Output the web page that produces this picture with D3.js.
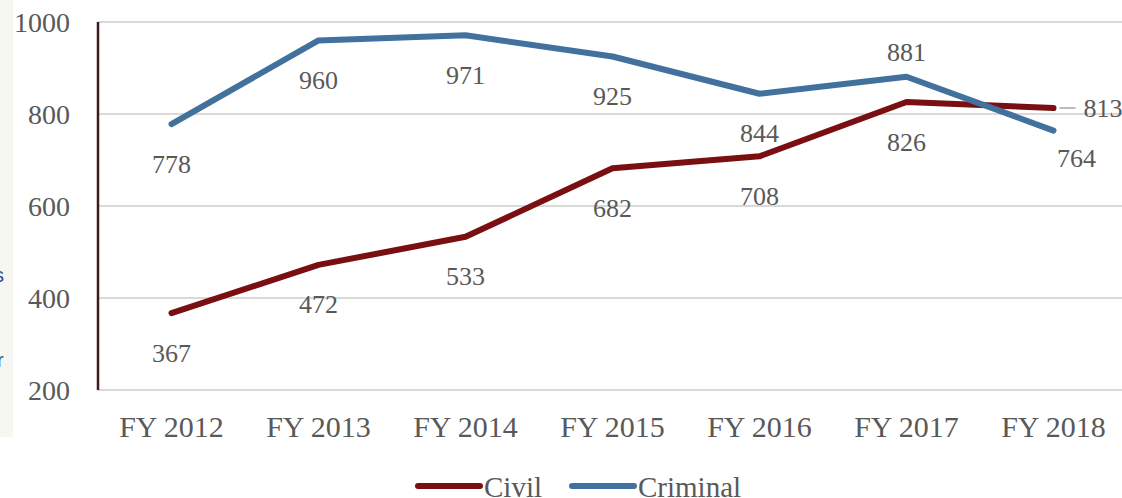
<!DOCTYPE html>
<html>
<head>
<meta charset="utf-8">
<script src="https://cdn.jsdelivr.net/npm/d3@7"></script>
<style>
  body { margin: 0; background: #fff; }
  svg { display: block; }
  text { font-family: "Liberation Serif", "Times New Roman", serif; fill: #595959; }
</style>
</head>
<body>
<script>
// chart data
const years = ["FY 2012", "FY 2013", "FY 2014", "FY 2015", "FY 2016", "FY 2017", "FY 2018"];
const civil = [367, 472, 533, 682, 708, 826, 813];
const criminal = [778, 960, 971, 925, 844, 881, 764];
const yTicks = [200, 400, 600, 800, 1000];

const W = 1122, H = 498;
const margin = {top: 22, right: -5, bottom: 108, left: 98};

const svg = d3.select("body").append("svg")
  .attr("width", W).attr("height", H);

// cropped side panel at the far left (part of the original page)
svg.append("rect").attr("x", 0).attr("y", 0).attr("width", 13).attr("height", 437)
  .attr("fill", "#f7f7f2");
svg.append("text").attr("x", -6).attr("y", 282).text("s")
  .style("font-family", "Liberation Sans, sans-serif").style("font-size", "20px").style("fill", "#2e4c8c");
svg.append("text").attr("x", -3).attr("y", 367).text("r")
  .style("font-family", "Liberation Sans, sans-serif").style("font-size", "20px").style("fill", "#2e4c8c");

const x = d3.scaleBand().domain(years)
  .range([margin.left, W - margin.right]);
const y = d3.scaleLinear().domain([200, 1000])
  .range([H - margin.bottom, margin.top]);
const cx = d => x(d) + x.bandwidth() / 2;

// gridlines
svg.append("g").selectAll("line").data(yTicks).enter().append("line")
  .attr("x1", margin.left).attr("x2", W)
  .attr("y1", d => y(d)).attr("y2", d => y(d))
  .attr("stroke", "#d9d9d9").attr("stroke-width", 2);

// y axis line + labels
svg.append("line")
  .attr("x1", margin.left).attr("x2", margin.left)
  .attr("y1", y(1000)).attr("y2", y(200))
  .attr("stroke", "#3b1c1c").attr("stroke-width", 2.5);

svg.append("g").selectAll("text").data(yTicks).enter().append("text")
  .attr("x", 70).attr("y", d => y(d))
  .attr("text-anchor", "end").attr("dominant-baseline", "central")
  .style("font-size", "28px")
  .text(d => d);

// x labels
svg.append("g").selectAll("text").data(years).enter().append("text")
  .attr("x", d => cx(d)).attr("y", 437)
  .attr("text-anchor", "middle")
  .style("font-size", "30px")
  .text(d => d);

const line = d3.line().x((d, i) => cx(years[i])).y(d => y(d));

svg.append("path").datum(civil)
  .attr("d", line).attr("fill", "none")
  .attr("stroke", "#7a0f12").attr("stroke-width", 6)
  .attr("stroke-linecap", "round").attr("stroke-linejoin", "round");

svg.append("path").datum(criminal)
  .attr("d", line).attr("fill", "none")
  .attr("stroke", "#41719c").attr("stroke-width", 6)
  .attr("stroke-linecap", "round").attr("stroke-linejoin", "round");

// data labels
const labelStyle = sel => sel.attr("text-anchor", "middle")
  .attr("dominant-baseline", "central").style("font-size", "26px");

svg.append("g").selectAll("text").data(criminal).enter().append("text")
  .attr("x", (d, i) => cx(years[i]) + (i === 6 ? 23 : 0))
  .attr("y", (d, i) => y(d) + (i === 5 ? -24 : i === 6 ? 28 : 40))
  .call(labelStyle)
  .text(d => d);

svg.append("g").selectAll("text").data(civil).enter().append("text")
  .filter((d, i) => i < 6)
  .attr("x", (d, i) => cx(years[i]))
  .attr("y", d => y(d) + 40)
  .call(labelStyle)
  .text(d => d);

// last civil label with leader line
const lastX = cx(years[6]), lastY = y(civil[6]);
svg.append("line")
  .attr("x1", lastX + 6).attr("x2", lastX + 22)
  .attr("y1", lastY).attr("y2", lastY)
  .attr("stroke", "#a6a6a6").attr("stroke-width", 1.5);
svg.append("text")
  .attr("x", lastX + 30).attr("y", lastY)
  .attr("dominant-baseline", "central").style("font-size", "26px")
  .text(civil[6]);

// legend
const legend = [{name: "Civil", color: "#7a0f12", x: 418}, {name: "Criminal", color: "#41719c", x: 572}];
const lg = svg.append("g").selectAll("g").data(legend).enter().append("g");
lg.append("line")
  .attr("x1", d => d.x).attr("x2", d => d.x + 62)
  .attr("y1", 486).attr("y2", 486)
  .attr("stroke", d => d.color).attr("stroke-width", 6)
  .attr("stroke-linecap", "round");
lg.append("text")
  .attr("x", d => d.x + 66).attr("y", 497)
  .style("font-size", "29px")
  .text(d => d.name);
</script>
</body>
</html>
